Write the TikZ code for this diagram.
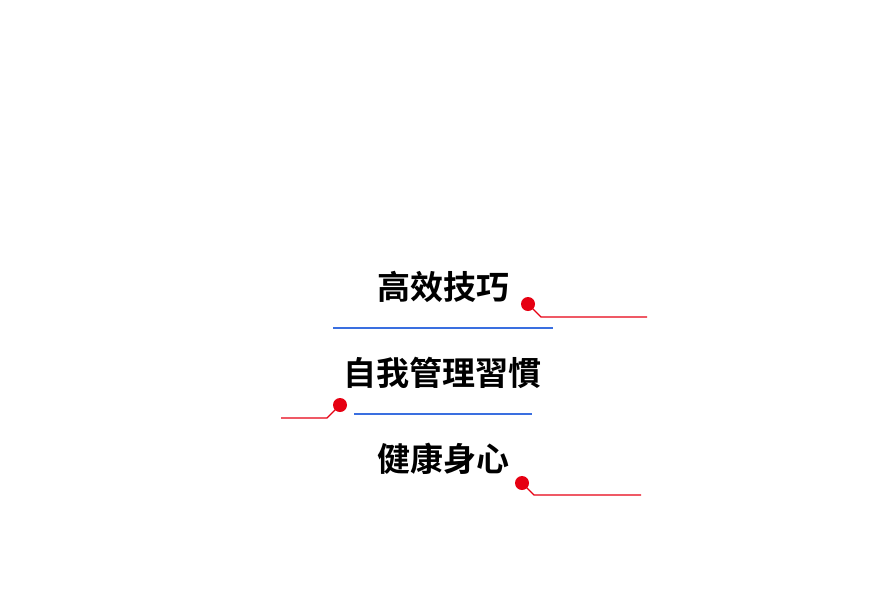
\documentclass[tikz,border=0pt]{standalone}
\usepackage{fontspec}
\newfontfamily\cjk{Noto Sans CJK TC}[UprightFont=* Bold]
\definecolor{rd}{HTML}{E60012}
\definecolor{bl}{HTML}{3A6FE0}
\begin{document}
\begin{tikzpicture}[x=1pt,y=-1pt,
  lbl/.style={font=\cjk\fontsize{33}{36}\selectfont,inner sep=0},
  dotn/.style={circle,fill=rd,minimum size=14,inner sep=0},
  rl/.style={rd,line width=1.3},
  bline/.style={bl,line width=1.3}]
\useasboundingbox (0,0) rectangle (895,606);
\node[lbl] (t1) at (443,287) {高效技巧};
\node[lbl] (t2) at (442,373) {自我管理習慣};
\node[lbl] (t3) at (443,459) {健康身心};
\node[dotn] (d1) at (528,304) {};
\node[dotn] (d2) at (340,405) {};
\node[dotn] (d3) at (522,483) {};
\coordinate (e1) at (647,317);
\coordinate (e2) at (281,418);
\coordinate (e3) at (641,495);
\draw[rl] (d1.center) -- (541,317) -- (e1);
\draw[rl] (d2.center) -- (327,418) -- (e2);
\draw[rl] (d3.center) -- (534,495) -- (e3);
\coordinate (b1a) at (333,328); \coordinate (b1b) at (553,328);
\coordinate (b2a) at (354,414); \coordinate (b2b) at (532,414);
\draw[bline] (b1a) -- (b1b);
\draw[bline] (b2a) -- (b2b);
\end{tikzpicture}
\end{document}
